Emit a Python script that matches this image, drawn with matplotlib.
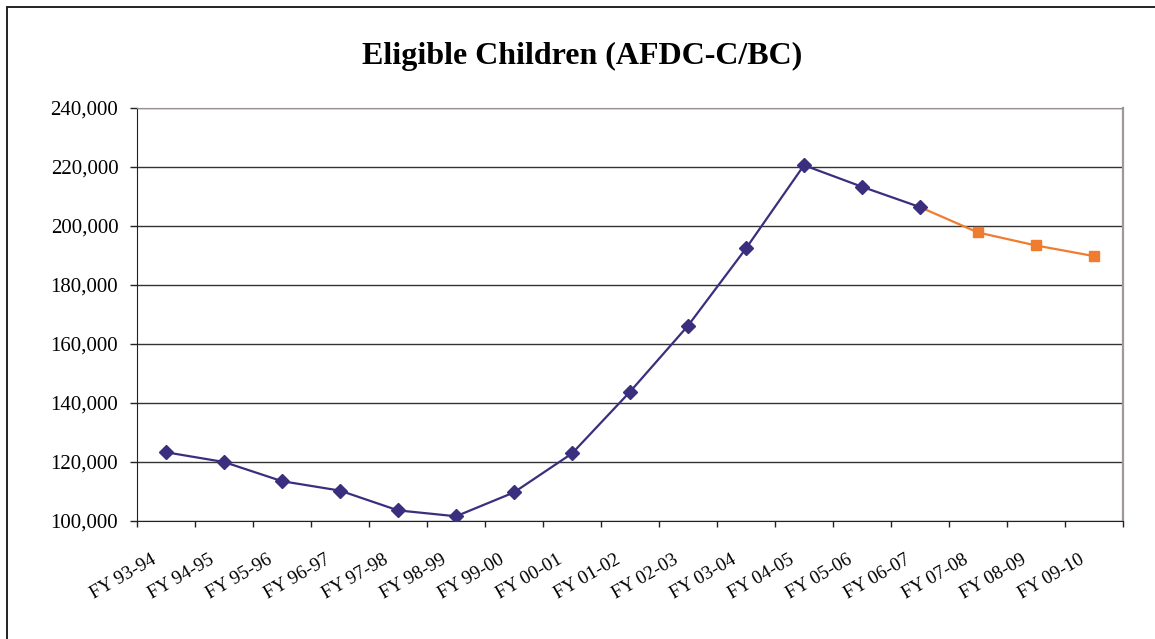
import matplotlib
matplotlib.use("Agg")
import matplotlib.pyplot as plt
import matplotlib.transforms as mtransforms
from matplotlib.patches import Rectangle
from matplotlib.ticker import FuncFormatter, MultipleLocator, FixedLocator

fiscal_years = ["FY 93-94", "FY 94-95", "FY 95-96", "FY 96-97", "FY 97-98",
                "FY 98-99", "FY 99-00", "FY 00-01", "FY 01-02", "FY 02-03",
                "FY 03-04", "FY 04-05", "FY 05-06", "FY 06-07", "FY 07-08",
                "FY 08-09", "FY 09-10"]

actual_children = [123300, 120000, 113500, 110300, 103600, 101600, 109700,
                   122900, 143800, 166200, 192400, 220600, 213300, 206400]

projected_children = [197800, 193400, 189800]

plt.rcParams["font.family"] = ["Liberation Serif", "DejaVu Serif"]

fig = plt.figure(figsize=(11.55, 6.39), dpi=100)
# outer frame: only the top and left edges fall inside the canvas
fig.patches.append(Rectangle((7 / 1155, -0.05), 1.2, 1.05 - 7 / 639,
                             transform=fig.transFigure, fill=False,
                             edgecolor="#222222", linewidth=1.4))

ax = fig.add_axes([137 / 1155, 1 - 521 / 639, 986 / 1155, 413 / 639])

navy = "#3A2F7E"
orange = "#F07C30"

n_actual = len(actual_children)
x_actual = list(range(n_actual))
x_proj = list(range(n_actual - 1, n_actual - 1 + len(projected_children) + 1))
y_proj = [actual_children[-1]] + projected_children

ax.plot(x_proj, y_proj, color=orange, linewidth=1.6, zorder=3)
ax.plot(x_proj[1:], y_proj[1:], linestyle="none", marker="s", markersize=7,
        color=orange, zorder=4)
ax.plot(x_actual, actual_children, color=navy, linewidth=1.6, marker="D",
        markersize=7, zorder=5)

ax.set_xlim(-0.5, len(fiscal_years) - 0.5)
ax.set_ylim(100000, 240000)

ax.yaxis.set_major_locator(MultipleLocator(20000))
ax.yaxis.set_major_formatter(FuncFormatter(lambda v, p: f"{int(v):,}"))
ax.yaxis.grid(True, color="#333333", linewidth=1.0)
ax.set_axisbelow(True)

ax.set_xticks(range(len(fiscal_years)))
ax.set_xticklabels(fiscal_years, rotation=30, ha="right",
                   rotation_mode="anchor")
ax.xaxis.set_minor_locator(FixedLocator([i - 0.5 for i in range(len(fiscal_years) + 1)]))
ax.tick_params(axis="x", which="major", length=0, pad=22, labelsize=13.8)
ax.tick_params(axis="x", which="minor", length=4.5, width=1, color="#222222")
ax.tick_params(axis="y", which="major", length=5, width=1, color="#222222",
               labelsize=15, pad=8.5)

shift = mtransforms.ScaledTranslation(-15 / 100, 0, fig.dpi_scale_trans)
for lbl in ax.get_xticklabels():
    lbl.set_transform(lbl.get_transform() + shift)

ax.spines["top"].set_color("#9a8f8f")
ax.spines["right"].set_color("#a09898")
ax.spines["right"].set_linewidth(1.6)
ax.spines["left"].set_color("#222222")
ax.spines["bottom"].set_color("#222222")

fig.text(582 / 1155, 1 - 56 / 639, "Eligible Children (AFDC-C/BC)",
         ha="center", va="center", fontsize=23, fontweight="bold")

fig.savefig("out.png", dpi=100)
